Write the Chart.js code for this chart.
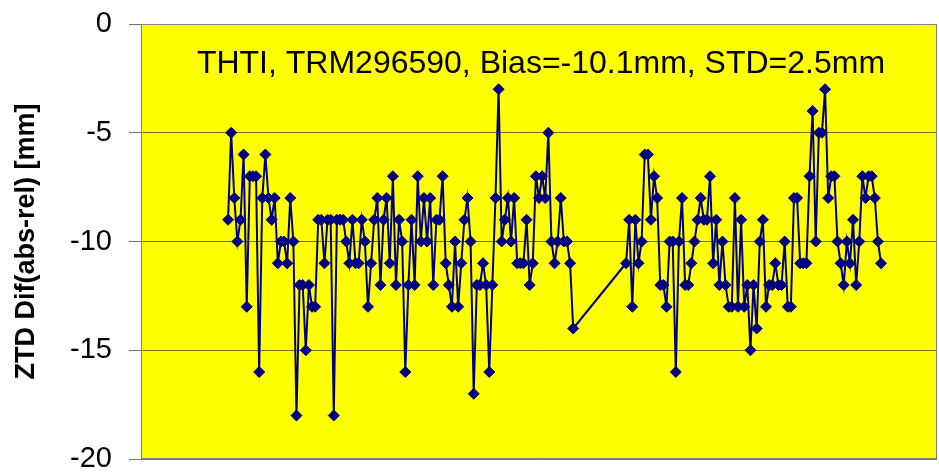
<!DOCTYPE html>
<html>
<head>
<meta charset="utf-8">
<script src="https://cdn.jsdelivr.net/npm/chart.js@4"></script>
<style>
  body { margin: 0; background: #fff; }
  #wrap { width: 939px; height: 473px; position: relative; }
</style>
</head>
<body>
<div id="wrap"><canvas id="ztdChart"></canvas></div>
<script>
// daily ZTD differences (abs - rel), mm; null = no solution that day
const before = [
  -9, -5, -8, -10, -9, -6, -13, -7, -7, -7,
  -16, -8, -6, -8, -9, -8, -11, -10, -10, -11,
  -8, -10, -18, -12, -12, -15, -12, -13, -13, -9,
  -9, -11, -9, -9, -18, -9, -9, -9, -10, -11,
  -9, -11, -11, -9, -10, -13, -11, -9, -8, -12,
  -9, -8, -11, -7, -12, -9, -10, -16, -12, -9,
  -12, -7, -10, -8, -10, -8, -12, -9, -9, -7,
  -11, -12, -13, -10, -13, -11, -9, -8, -10, -17,
  -12, -12, -11, -12, -16, -12, -8, -3, -10, -9,
  -8, -10, -8, -11, -11, -11, -9, -12, -11, -7,
  -8, -7, -8, -5, -10, -11, -10, -8, -10, -10,
  -11, -14
];
const missingDays = 16;
const after = [
  -11, -9, -13, -9, -11, -10, -6, -6, -9, -7,
  -8, -12, -12, -13, -10, -10, -16, -10, -8, -12,
  -12, -11, -10, -9, -8, -9, -9, -7, -11, -9,
  -12, -10, -12, -13, -13, -8, -13, -9, -13, -12,
  -15, -12, -14, -10, -9, -13, -12, -12, -11, -12,
  -12, -10, -13, -13, -8, -8, -11, -11, -11, -7,
  -4, -10, -5, -5, -3, -8, -7, -7, -10, -11,
  -12, -10, -11, -9, -12, -10, -7, -8, -7, -7,
  -8, -10, -11
];
const ztd = before.concat(new Array(missingDays).fill(null), after);
const yTicks = [0, -5, -10, -15, -20];
const chartTitle = 'THTI, TRM296590, Bias=-10.1mm, STD=2.5mm';

const points = ztd.map((v, i) => ({ x: i + 1, y: v }));

const plotBox = {
  id: 'plotBox',
  beforeDraw(chart) {
    const { ctx, chartArea: a } = chart;
    ctx.save();
    ctx.fillStyle = '#ffff00';
    ctx.fillRect(a.left, a.top, a.right - a.left, a.bottom - a.top);
    ctx.restore();
  },
  beforeDatasetsDraw(chart) {
    const { ctx, chartArea: a } = chart;
    ctx.save();
    ctx.strokeStyle = '#808080';
    ctx.lineWidth = 1;
    ctx.strokeRect(a.left + 0.5, a.top + 0.5, a.right - a.left - 1, a.bottom - a.top - 1);
    ctx.fillStyle = '#000';
    ctx.font = '32px "Liberation Sans", Arial, sans-serif';
    ctx.textAlign = 'center';
    ctx.textBaseline = 'alphabetic';
    ctx.fillText(chartTitle, (a.left + a.right) / 2 + 2, a.top + 49);
    ctx.restore();
  }
};

new Chart(document.getElementById('ztdChart'), {
  type: 'line',
  data: {
    datasets: [{
      data: points,
      borderColor: '#000080',
      backgroundColor: '#000080',
      borderWidth: 2,
      pointStyle: 'rectRot',
      pointRadius: 5.5,
      pointBorderWidth: 1,
      spanGaps: true,
      tension: 0
    }]
  },
  options: {
    responsive: true,
    maintainAspectRatio: false,
    animation: false,
    layout: { autoPadding: false, padding: { left: 0, right: 2, top: 24, bottom: 14 } },
    plugins: {
      legend: { display: false },
      tooltip: { enabled: false }
    },
    scales: {
      x: {
        type: 'linear',
        display: false,
        min: -27,
        max: 229
      },
      y: {
        min: -20,
        max: 0,
        afterFit(scale) {
          scale.width = 141;
          scale.paddingTop = 0;
          scale.paddingBottom = 0;
        },
        afterBuildTicks(scale) { scale.ticks = yTicks.map(v => ({ value: v })); },
        ticks: {
          color: '#000',
          padding: 17,
          font: { family: '"Liberation Sans", Arial, sans-serif', size: 29 }
        },
        grid: {
          color: 'rgba(0,0,0,0.55)',
          tickLength: 12,
          lineWidth: 1
        },
        border: { color: '#808080' },
        title: {
          display: true,
          text: 'ZTD Dif(abs-rel) [mm]',
          color: '#000',
          padding: { top: 10, bottom: 0 },
          font: { family: '"Liberation Sans", Arial, sans-serif', size: 27, weight: 'bold' }
        }
      }
    }
  },
  plugins: [plotBox]
});
</script>
</body>
</html>
